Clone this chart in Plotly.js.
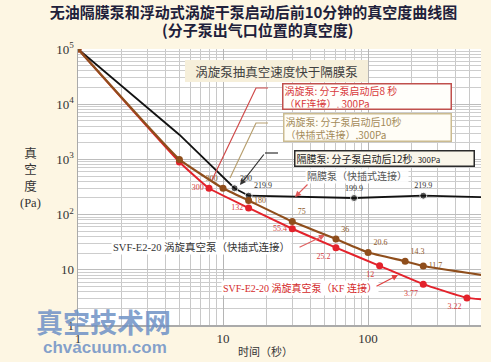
<!DOCTYPE html>
<html>
<head>
<meta charset="utf-8">
<script src="https://cdn.plot.ly/plotly-3.0.1.min.js"></script>
<style>html,body{margin:0;padding:0;background:#fdf6e3;}#chart{width:491px;height:362px;}</style>
</head>
<body>
<div id="chart"></div>
<script>
// ---- data ----
const timeKF = [1, 5, 8, 15, 30, 60, 120, 240, 480, 700];
const vacKF = [100000, 900, 300, 132, 55.4, 25.2, 11.8, 5.5, 3.1, 2.85];
const labelKF = ['', '', '300', '132', '55.4', '25.2', '12', '3.77', '3.22', ''];

const timeQC = [1, 5, 10, 15, 30, 60, 100, 180, 240, 700];
const vacQC = [100000, 1000, 300, 180, 75, 36, 20.6, 14.3, 11.7, 7.6];
const labelQC = ['', '', '300', '180', '75', '36', '20.6', '14.3', '11.7', ''];

const timeDP = [1, 5, 12, 15, 80, 240, 700];
const vacDP = [100000, 2800, 300, 219.9, 199.9, 219.9, 205];
const labelDP = ['', '', '300', '219.9', '199.9', '219.9', ''];

const xTickVals = [1, 10, 100];
const xTickText = ['1', '10', '100'];
const yTickVals = [1, 10, 100, 1000, 10000, 100000];
const yTickText = ['1', '10', '10<sup>2</sup>', '10<sup>3</sup>', '10<sup>4</sup>', '10<sup>5</sup>'];

// ---- layout helpers (pixel -> paper) ----
const L = 78, R = 481, T = 49, B = 325;
const px = x => (x - L) / (R - L);
const py = y => (B - y) / (B - T);
const CJK = 'Noto Sans CJK SC';
const SERIF = 'Liberation Serif, Noto Sans CJK SC';

const traces = [
  {
    x: timeDP, y: vacDP, mode: 'lines+markers+text', type: 'scatter',
    line: {color: '#111111', width: 1.8},
    marker: {color: '#111111', size: [7, 0, 7, 7, 7, 7, 7]},
    text: labelDP,
    textposition: ['top right', 'top right', 'top right', 'top right', 'top center', 'top center', 'top right'],
    textfont: {family: SERIF, size: 8, color: '#333333'},
    hoverinfo: 'skip'
  },
  {
    x: timeKF, y: vacKF, mode: 'lines+markers+text', type: 'scatter',
    line: {color: '#e3222b', width: 2, shape: 'spline', smoothing: 0.35},
    marker: {color: '#e3222b', size: 7},
    text: labelKF,
    textposition: ['middle left', 'middle left', 'middle left', 'middle left', 'middle left', 'bottom left', 'bottom left', 'bottom left', 'bottom left', 'bottom left'],
    textfont: {family: SERIF, size: 8, color: '#d84040'},
    hoverinfo: 'skip'
  },
  {
    x: timeQC, y: vacQC, mode: 'lines+markers+text', type: 'scatter',
    line: {color: '#8f4e1c', width: 2.2, shape: 'spline', smoothing: 0.35},
    marker: {color: '#8f4e1c', size: 7},
    text: labelQC,
    textposition: ['top left', 'top left', 'top left', 'middle right', 'top right', 'top right', 'top right', 'top right', 'middle right', 'top right'],
    textfont: {family: SERIF, size: 8, color: '#8f5a2a'},
    hoverinfo: 'skip'
  }
];

function box(x0, y0, x1, y1, text, opt) {
  const bw = opt.bw || 0, pad = 1;
  return Object.assign({
    xref: 'paper', yref: 'paper', x: px(x0), y: py(y0), xanchor: 'left', yanchor: 'top',
    width: x1 - x0 - 2 * pad - 2 * bw, height: y1 - y0 - 2 * pad - 2 * bw,
    text: text, showarrow: false, borderpad: pad, borderwidth: bw,
    bordercolor: opt.border || 'rgba(0,0,0,0)', bgcolor: opt.bg || 'rgba(0,0,0,0)',
    align: opt.align || 'left', valign: 'middle',
    font: {family: CJK, size: opt.size || 10, color: opt.color || '#222'}
  }, opt.extra || {});
}
function arrow(hx, hy, tx, ty, color) {
  return {xref: 'paper', yref: 'paper', x: px(hx), y: py(hy), ax: tx - hx, ay: ty - hy,
    text: '', showarrow: true, arrowhead: 2, arrowsize: 1, arrowwidth: 1.2, arrowcolor: color};
}
function label(cx, cy, text, size, color, family, bg) {
  return {xref: 'paper', yref: 'paper', x: px(cx), y: py(cy), xanchor: 'center', yanchor: 'middle',
    text: text, showarrow: false, bgcolor: bg || 'rgba(0,0,0,0)', borderpad: 1,
    font: {family: family, size: size, color: color}};
}
function path(pts) {
  return 'M' + pts.map(p => px(p[0]) + ',' + py(p[1])).join(' L');
}

const annotations = [
  label(257, 30, '<b>(分子泵出气口位置的真空度)</b>', 15, '#20203a', CJK),
  label(30, 178, '真<br>空<br>度<br>(Pa)', 12.5, '#333333', SERIF),
  label(265, 351, '时间（秒）', 11, '#333333', SERIF),
  box(185, 60, 368, 82, '涡旋泵抽真空速度快于隔膜泵', {bg: '#f6efda', size: 12.5, color: '#404040', align: 'center'}),
  box(282, 83, 452, 110, '涡旋泵: 分子泵启动后8 秒<br>（KF连接）, 300Pa', {bw: 1.5, border: '#c0504d', bg: '#fffefa', color: '#d8393b'}),
  box(283, 113, 452, 142, '涡旋泵: 分子泵启动后10秒<br>（快插式连接）,300Pa', {bw: 1.5, border: '#cbbb90', bg: '#fffdf6', color: '#a38a58'}),
  box(294, 150, 475, 167, '隔膜泵: 分子泵启动后12秒. <span style="font-size:8px">300Pa</span>', {bw: 1.5, border: '#2a2a2a', bg: '#faf6ea', color: '#222222'}),
  label(357, 176, '隔膜泵（快插式连接）', 10, '#555555', SERIF, 'rgba(255,255,255,0.9)'),
  label(201, 247, 'SVF-E2-20 涡旋真空泵（快插式连接）', 10.5, '#333333', SERIF, '#ffffff'),
  label(300, 288, 'SVF-E2-20 涡旋真空泵（KF 连接）', 10, '#d42a2a', SERIF, '#ffffff'),
  arrow(295, 197, 309, 183, '#e05a5a'),
  arrow(325, 235, 298, 248, '#e06060'),
  arrow(398, 275, 375, 287, '#e04040'),
  arrow(240, 185, 265, 153, '#333333'),
  label(103, 321, '<b>真空技术网</b>', 27, 'rgba(110,145,198,0.85)', CJK),
  label(105, 347, '<b>chvacuum.com</b>', 17, 'rgba(110,145,198,0.85)', 'Liberation Sans')
];

const shapes = [
  {type: 'path', xref: 'paper', yref: 'paper', path: path([[268, 88], [256, 88], [212, 180]]), line: {color: '#d04a4a', width: 1.2}},
  {type: 'path', xref: 'paper', yref: 'paper', path: path([[268, 123], [256, 123], [230, 178]]), line: {color: '#b8a070', width: 1.2}},
  {type: 'path', xref: 'paper', yref: 'paper', path: path([[278, 153], [265, 153]]), line: {color: '#333333', width: 1.2}}
];

const layout = {
  width: 491, height: 362,
  margin: {l: L, r: 491 - R, t: T, b: 362 - B},
  paper_bgcolor: '#fdf6e3', plot_bgcolor: '#ffffff',
  showlegend: false,
  title: {
    text: '<b>无油隔膜泵和浮动式涡旋干泵启动后前10分钟的真空度曲线图</b>',
    font: {family: CJK, size: 15, color: '#20203a'},
    x: 253.5 / 491, xanchor: 'center', xref: 'container',
    y: 1 - 13 / 362, yanchor: 'middle', yref: 'container'
  },
  xaxis: {
    type: 'log', range: [0, Math.log10(600)],
    tickmode: 'array', tickvals: xTickVals, ticktext: xTickText,
    showgrid: true, gridcolor: '#b5b5b5', gridwidth: 1,
    minor: {dtick: 'D1', showgrid: true, gridcolor: '#c8c8c8', gridwidth: 1, ticks: ''},
    showline: true, linecolor: '#aaaaaa', linewidth: 2, ticks: '', zeroline: false,
    tickfont: {family: 'Liberation Serif', size: 13, color: '#333333'}
  },
  yaxis: {
    type: 'log', range: [0, 5],
    tickmode: 'array', tickvals: yTickVals, ticktext: yTickText,
    showgrid: true, gridcolor: '#bdbdbd', gridwidth: 1,
    minor: {dtick: 'D1', showgrid: true, gridcolor: '#cdcdcd', gridwidth: 1, ticks: ''},
    showline: true, linecolor: '#aaaaaa', linewidth: 1.5, ticks: '', zeroline: false,
    tickfont: {family: 'Liberation Serif', size: 13, color: '#333333'}
  },
  annotations: annotations,
  shapes: shapes
};

Plotly.newPlot('chart', traces, layout, {staticPlot: true, displayModeBar: false});
</script>
</body>
</html>
